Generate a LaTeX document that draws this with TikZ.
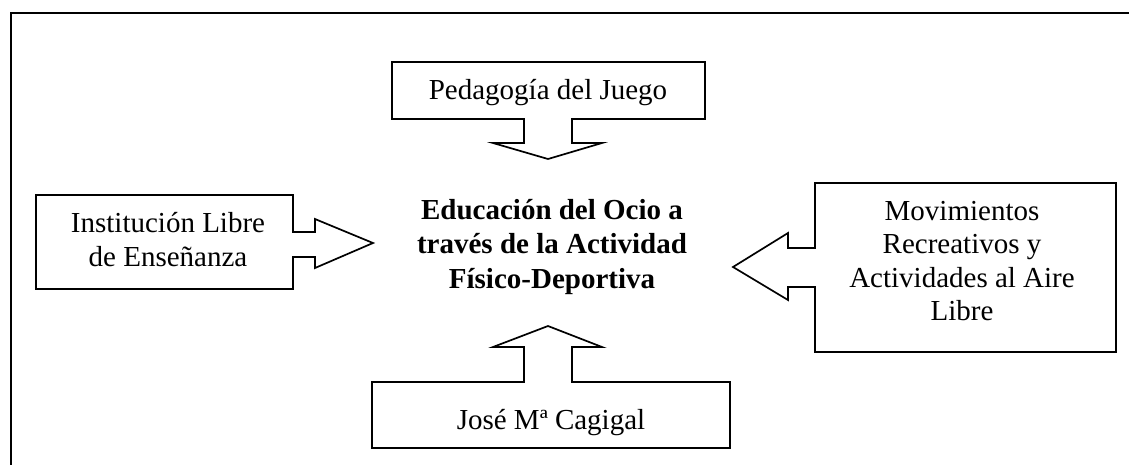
\documentclass[tikz,border=0pt]{standalone}
\usepackage{fontspec}
\setmainfont{Liberation Serif}
\begin{document}
\begin{tikzpicture}[x=1pt,y=-1pt,
  shapeline/.style={draw=black,line width=1.7pt,fill=white,line join=miter},
  framel/.style={draw=black,line width=2pt},
  lbl/.style={font=\fontsize{29}{33.5}\selectfont,align=center,inner sep=0pt},
  ttl/.style={font=\fontsize{29}{34.5}\selectfont\bfseries,align=center,inner sep=0pt}]
\useasboundingbox (0,0) rectangle (1129,464);
% outer frame (open towards right and bottom)
\draw[framel] (11,470) -- (11,13) -- (1135,13);
% top callout
\draw[shapeline] (392,62) -- (705,62) -- (705,119) -- (572,119) -- (572,143) -- (602,143)
  -- (548,159) -- (493,143) -- (524,143) -- (524,119) -- (392,119) -- cycle;
% left callout
\draw[shapeline] (36,195) -- (293,195) -- (293,232) -- (315,232) -- (315,219) -- (373,243)
  -- (315,268) -- (315,257) -- (293,257) -- (293,289) -- (36,289) -- cycle;
% right callout
\draw[shapeline] (815,183) -- (1116,183) -- (1116,352) -- (815,352) -- (815,287) -- (788,287)
  -- (788,300) -- (733,267) -- (788,233) -- (788,248) -- (815,248) -- cycle;
% bottom callout
\draw[shapeline] (372,382) -- (524,382) -- (524,347) -- (493,347) -- (548,326) -- (602,347)
  -- (572,347) -- (572,382) -- (730,382) -- (730,448) -- (372,448) -- cycle;
% texts
\node[lbl] (ped) at (548,93) {Pedagogía del Juego};
\node[lbl] (ile) at (168,239.5) {Institución Libre\\de Enseñanza};
\node[lbl] (mov) at (962,261) {Movimientos\\Recreativos y\\Actividades al Aire\\Libre};
\node[lbl] (jmc) at (551,423) {José Mª Cagigal};
\node[ttl] (edu) at (552,247) {Educación del Ocio a\\través de la Actividad\\Físico-Deportiva};
\end{tikzpicture}
\end{document}
